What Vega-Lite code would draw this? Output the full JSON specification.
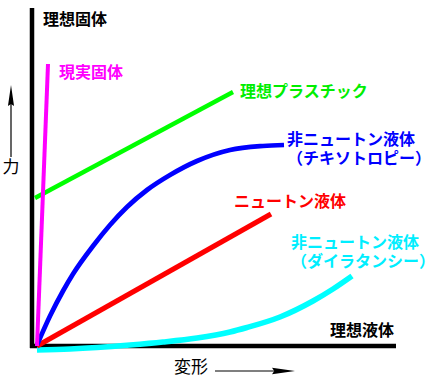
{
  "$schema": "https://vega.github.io/schema/vega-lite/v6.json",
  "width": 448,
  "height": 384,
  "autosize": {"type": "fit", "contains": "padding"},
  "padding": 0,
  "background": "white",
  "config": {"view": {"stroke": null}},
  "datasets": {
    "curves": [
      {"series": "cyan", "x": 5, "y": -4},
      {"series": "cyan", "x": 38, "y": -3},
      {"series": "cyan", "x": 65, "y": -1.5},
      {"series": "cyan", "x": 98, "y": 1},
      {"series": "cyan", "x": 131, "y": 4},
      {"series": "cyan", "x": 165, "y": 8},
      {"series": "cyan", "x": 198, "y": 14},
      {"series": "cyan", "x": 215, "y": 18.5},
      {"series": "cyan", "x": 248, "y": 29},
      {"series": "cyan", "x": 281, "y": 45},
      {"series": "cyan", "x": 301, "y": 57},
      {"series": "cyan", "x": 320, "y": 70},
      {"series": "red", "x": 5, "y": 0},
      {"series": "red", "x": 239, "y": 132},
      {"series": "blue", "x": 5, "y": 1},
      {"series": "blue", "x": 18, "y": 30},
      {"series": "blue", "x": 31, "y": 55},
      {"series": "blue", "x": 41, "y": 72},
      {"series": "blue", "x": 61, "y": 100},
      {"series": "blue", "x": 78, "y": 121},
      {"series": "blue", "x": 95, "y": 139},
      {"series": "blue", "x": 115, "y": 156},
      {"series": "blue", "x": 138, "y": 171},
      {"series": "blue", "x": 165, "y": 185},
      {"series": "blue", "x": 198, "y": 196},
      {"series": "blue", "x": 231, "y": 200},
      {"series": "blue", "x": 252, "y": 201},
      {"series": "green", "x": 3, "y": 148},
      {"series": "green", "x": 201, "y": 254},
      {"series": "magenta", "x": 5, "y": 0},
      {"series": "magenta", "x": 16, "y": 282}
    ],
    "axes": [
      {"x": 0, "y": -2, "x2": 0, "y2": 338},
      {"x": -2, "y": 0, "x2": 364, "y2": 0}
    ],
    "arrows": [
      {"x": -21, "y": 189, "x2": -21, "y2": 242},
      {"x": 183, "y": -25, "x2": 245, "y2": -25}
    ],
    "labels": [
      {"label": "理想固体", "x": 11, "y": 326, "color": "#000000"},
      {"label": "現実固体", "x": 27, "y": 273, "color": "#FF00FF"},
      {"label": "理想プラスチック", "x": 208, "y": 254, "color": "#00EE00"},
      {"label": "非ニュートン液体\n（チキソトロピー）", "x": 255, "y": 206, "color": "#0000FF"},
      {"label": "ニュートン液体", "x": 202, "y": 144, "color": "#FF0000"},
      {"label": "非ニュートン液体\n（ダイラタンシー）", "x": 259, "y": 103, "color": "#00EEFF"},
      {"label": "理想液体", "x": 298, "y": 15, "color": "#000000"}
    ],
    "axislabels": [
      {"label": "力", "x": -21, "y": 178},
      {"label": "変形", "x": 159, "y": -22}
    ]
  },
  "layer": [
    {
      "data": {"name": "axes"},
      "mark": {"type": "rule", "color": "black", "strokeWidth": 4.5},
      "encoding": {
        "x": {"field": "x", "type": "quantitative", "scale": {"domain": [-32, 416], "nice": false, "zero": false}, "axis": null},
        "y": {"field": "y", "type": "quantitative", "scale": {"domain": [-38, 346], "nice": false, "zero": false}, "axis": null},
        "x2": {"field": "x2"},
        "y2": {"field": "y2"}
      }
    },
    {
      "data": {"name": "curves"},
      "mark": {"type": "line", "interpolate": "monotone", "strokeCap": "butt"},
      "encoding": {
        "x": {"field": "x", "type": "quantitative"},
        "y": {"field": "y", "type": "quantitative"},
        "color": {"field": "series", "type": "nominal", "scale": {"domain": ["cyan", "red", "blue", "green", "magenta"], "range": ["#00FFFF", "#FF0000", "#0000FF", "#00FF00", "#FF00FF"]}, "legend": null},
        "strokeWidth": {"field": "series", "type": "nominal", "scale": {"domain": ["cyan", "red", "blue", "green", "magenta"], "range": [5.5, 4, 6.5, 4, 4]}, "legend": null},
        "order": {"field": "x", "type": "quantitative"}
      }
    },
    {
      "data": {"name": "arrows"},
      "mark": {"type": "rule", "color": "black", "strokeWidth": 1.2},
      "encoding": {
        "x": {"field": "x", "type": "quantitative"},
        "y": {"field": "y", "type": "quantitative"},
        "x2": {"field": "x2"},
        "y2": {"field": "y2"}
      }
    },
    {
      "data": {"values": [{"x": -21, "y": 250.5}]},
      "mark": {"type": "point", "shape": "M0,-1L0.29,1L0,0.8L-0.29,1Z", "filled": true, "color": "black", "opacity": 1, "size": 441},
      "encoding": {
        "x": {"field": "x", "type": "quantitative"},
        "y": {"field": "y", "type": "quantitative"}
      }
    },
    {
      "data": {"values": [{"x": 251.5, "y": -25}]},
      "mark": {"type": "point", "shape": "M1,0L-1,-0.28L-0.8,0L-1,0.28Z", "filled": true, "color": "black", "opacity": 1, "size": 529},
      "encoding": {
        "x": {"field": "x", "type": "quantitative"},
        "y": {"field": "y", "type": "quantitative"}
      }
    },
    {
      "data": {"name": "labels"},
      "mark": {"type": "text", "align": "left", "baseline": "middle", "font": "Noto Sans CJK JP", "fontSize": 16, "fontWeight": "bold", "lineBreak": "\n", "lineHeight": 19},
      "encoding": {
        "x": {"field": "x", "type": "quantitative"},
        "y": {"field": "y", "type": "quantitative"},
        "text": {"field": "label"},
        "color": {"field": "color", "type": "nominal", "scale": null}
      }
    },
    {
      "data": {"name": "axislabels"},
      "mark": {"type": "text", "align": "center", "baseline": "middle", "font": "Noto Sans CJK JP", "fontSize": 17, "color": "black"},
      "encoding": {
        "x": {"field": "x", "type": "quantitative"},
        "y": {"field": "y", "type": "quantitative"},
        "text": {"field": "label"}
      }
    }
  ]
}
